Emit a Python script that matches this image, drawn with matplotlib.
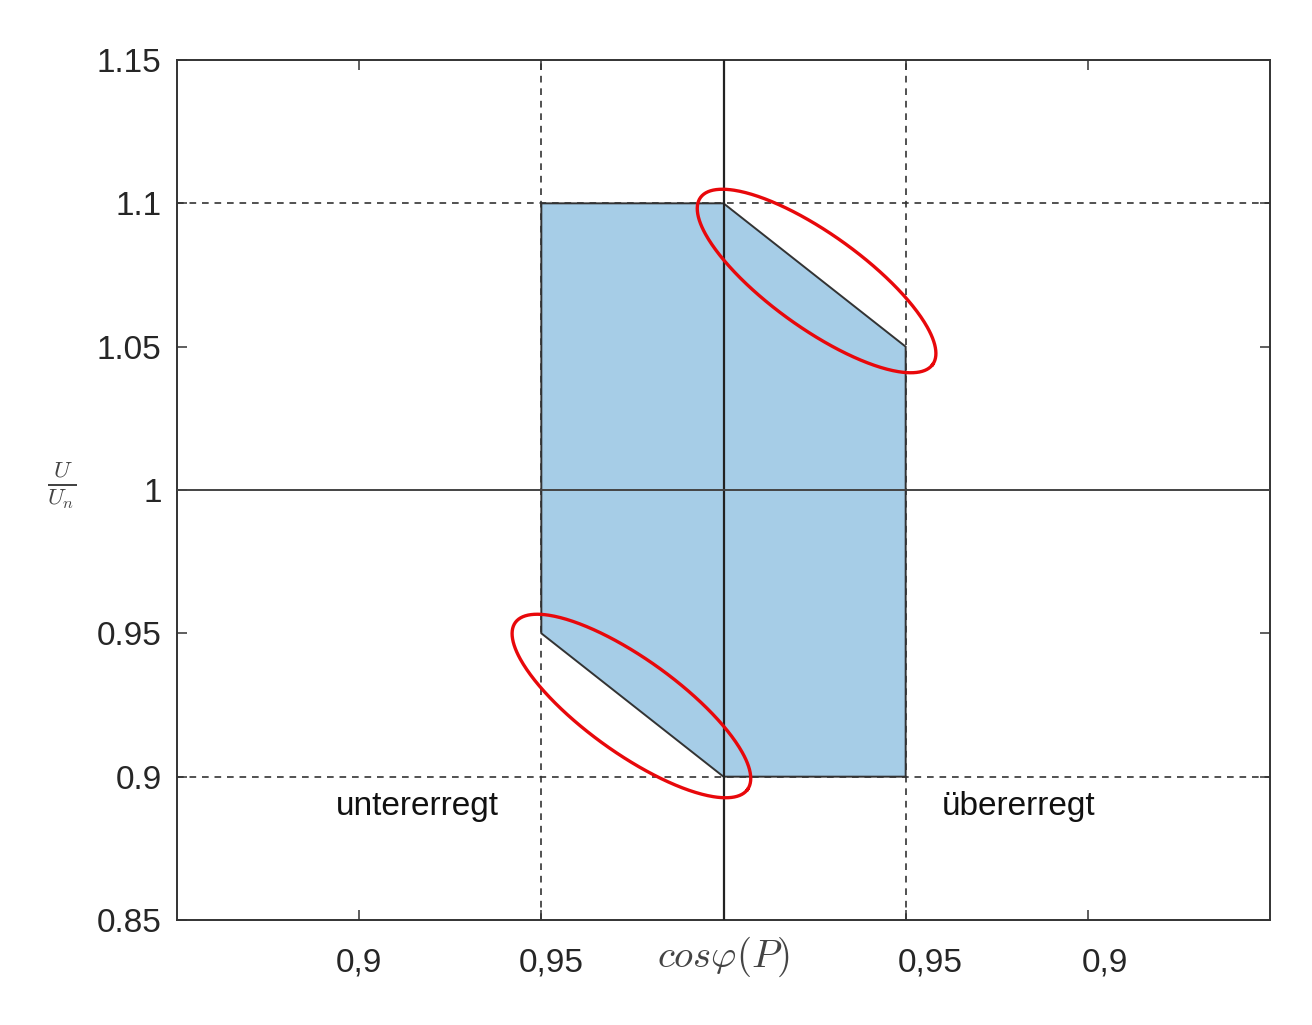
import numpy as np
import matplotlib
matplotlib.use("Agg")
import matplotlib.pyplot as plt
from matplotlib.transforms import ScaledTranslation

plt.rcParams["font.family"] = ["Liberation Sans", "DejaVu Sans"]
plt.rcParams["mathtext.fontset"] = "cm"

# ── data ──────────────────────────────────────────────────────────────────────
# x axis: steps of the power factor away from cos(phi)=1 (neg = untererregt)
x_ticks = [-2, -1, 1, 2]
x_labels = ["0,9", "0,95", "0,95", "0,9"]
y_ticks = [0.85, 0.9, 0.95, 1.0, 1.05, 1.1, 1.15]
y_labels = ["0.85", "0.9", "0.95", "1", "1.05", "1.1", "1.15"]

# allowed operating region
region_x = [-1, -1, 0, 1, 1, 0]
region_y = [0.95, 1.1, 1.1, 1.05, 0.9, 0.9]

# limits drawn as dashed lines
limit_x = [-1, 1]
limit_y = [0.9, 1.1]

# slanted edges highlighted by red ellipses
highlight_edges = [((0, 1.1), (1, 1.05)), ((-1, 0.95), (0, 0.9))]

FILL = "#a6cde7"
EDGE = "#333333"
TXT = "#262626"

W, H = 1312, 1025
fig = plt.figure(figsize=(W / 100, H / 100), dpi=100, facecolor="white")
ax = fig.add_axes([177 / W, 1 - 920 / H, (1270 - 177) / W, (920 - 60) / H])

ax.set_xlim(-3, 3)
ax.set_ylim(0.85, 1.15)

for xv in limit_x:
    ax.axvline(xv, color=EDGE, lw=1.2, ls=(0, (4, 3.5)), zorder=2)
for yv in limit_y:
    ax.axhline(yv, color=EDGE, lw=1.2, ls=(0, (4, 3.5)), zorder=2)
ax.fill(region_x, region_y, facecolor=FILL, edgecolor=EDGE, lw=1.4, zorder=3)
ax.axvline(0, color="#222222", lw=1.6, zorder=4)
ax.axhline(1.0, color="#444444", lw=1.4, zorder=4)

# ticks (MATLAB style, inside on all sides)
ax.set_xticks(x_ticks)
ax.set_xticklabels(x_labels)
ax.set_yticks(y_ticks)
ax.set_yticklabels(y_labels)
ax.tick_params(direction="in", length=7, width=1.1, color="#333333",
               top=True, right=True, labelsize=24, labelcolor=TXT)
ax.tick_params(axis="x", pad=20)
ax.tick_params(axis="y", pad=11)
for s in ax.spines.values():
    s.set_color("#333333")
    s.set_linewidth(1.4)

# the x labels in the original sit a little right of their ticks
for lbl, dx in zip(ax.get_xticklabels(), [0, 10, 25, 17]):
    lbl.set_transform(lbl.get_transform() + ScaledTranslation(dx / 100, 0, fig.dpi_scale_trans))

ax.text(0, -0.043, r"$cos\varphi(P)$", transform=ax.get_xaxis_transform(),
        ha="center", va="center", fontsize=28, color="#444444")
ax.text(-0.106, 0.505, r"$\frac{U}{U_n}$", transform=ax.transAxes,
        ha="center", va="center", fontsize=24, color="#444444")

ax.text(-1.68, 0.8895, "untererregt", ha="center", va="center", fontsize=24, color="#111111")
ax.text(1.62, 0.8895, "übererregt", ha="center", va="center", fontsize=24, color="#111111")

# red ellipses around the slanted edges (built in pixel space)
t = np.linspace(0, 2 * np.pi, 400)
for (p1, p2), off in zip(highlight_edges, [(2, -6), (-1, -1)]):
    a = ax.transData.transform(p1)
    b = ax.transData.transform(p2)
    c = (a + b) / 2 + np.array(off)
    ang = np.arctan2(b[1] - a[1], b[0] - a[0]) + np.radians(2.5)
    ra, rb = 143, 47
    ex = ra * np.cos(t)
    ey = rb * np.sin(t)
    px = c[0] + ex * np.cos(ang) - ey * np.sin(ang)
    py = c[1] + ex * np.sin(ang) + ey * np.cos(ang)
    d = ax.transData.inverted().transform(np.column_stack([px, py]))
    ax.plot(d[:, 0], d[:, 1], color="#e8080b", lw=2.4, zorder=6, clip_on=False)

fig.savefig("out.png", dpi=100)
